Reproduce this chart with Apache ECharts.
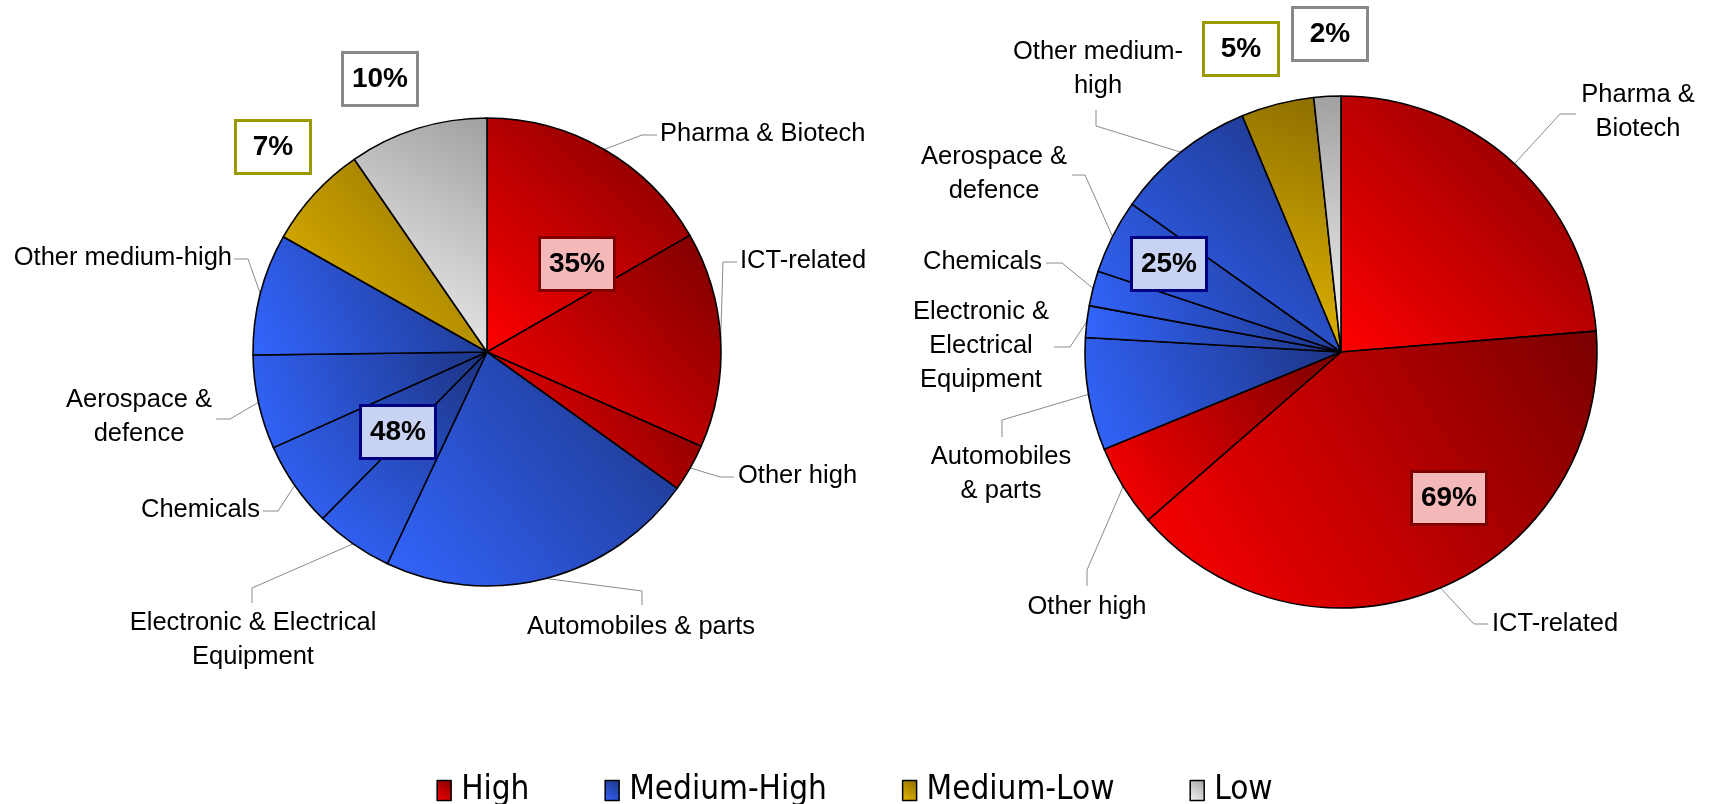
<!DOCTYPE html>
<html>
<head>
<meta charset="utf-8">
<script src="https://cdn.jsdelivr.net/npm/echarts@6/dist/echarts.min.js"></script>
<style>
  html, body { margin: 0; padding: 0; background: #ffffff; }
  #chart { width: 1709px; height: 804px; }
</style>
</head>
<body>
<div id="chart"></div>
<script>
// Sectors (same order in both pies) and the technology group each belongs to
const categories = ['Pharma & Biotech', 'ICT-related', 'Other high', 'Automobiles & parts',
  'Electronic & Electrical Equipment', 'Chemicals', 'Aerospace & defence', 'Other medium-high',
  'Medium-Low', 'Low'];
const categoryGroups = ['High', 'High', 'High', 'Medium-High', 'Medium-High', 'Medium-High',
  'Medium-High', 'Medium-High', 'Medium-Low', 'Low'];
const groups = ['High', 'Medium-High', 'Medium-Low', 'Low'];

// Shares (%) of each sector
const leftShares  = [16.7, 14.9, 3.3, 22.1, 5.4, 5.9, 6.5, 8.4, 7.2, 9.6];
const rightShares = [23.7, 39.9, 5.2, 7.1, 2.0, 2.2, 4.7, 8.9, 4.6, 1.7];

// Label text as written next to each pie (empty = no sector label)
const leftLabelText = ['Pharma & Biotech', 'ICT-related', 'Other high', 'Automobiles & parts',
  'Electronic & Electrical\nEquipment', 'Chemicals', 'Aerospace &\ndefence', 'Other medium-high', '', ''];
const rightLabelText = ['Pharma &\nBiotech', 'ICT-related', 'Other high', 'Automobiles\n& parts',
  'Electronic &\nElectrical\nEquipment', 'Chemicals', 'Aerospace &\ndefence', 'Other medium-\nhigh', '', ''];

// ---- presentation ----
const FONT = "'Liberation Sans', Arial, sans-serif";
const NARROW = "'Liberation Sans Narrow', 'Arial Narrow', 'DejaVu Sans Condensed', sans-serif";

const palette = {
  'High':        { light: '#FF0000', dark: '#7A0000', box: '#F4B8B8', edge: '#800000' },
  'Medium-High': { light: '#3366FF', dark: '#1C3380', box: '#C8D2F2', edge: '#000080' },
  'Medium-Low':  { light: '#E8BA00', dark: '#8A6C00', box: '#FFFFFF', edge: '#999900' },
  'Low':         { light: '#F8F8F8', dark: '#A0A0A0', box: '#FFFFFF', edge: '#888888' }
};
function shade(g) {
  return new echarts.graphic.LinearGradient(0, 1, 1, 0, [
    { offset: 0, color: palette[g].light },
    { offset: 1, color: palette[g].dark }
  ]);
}

const leftPie  = { center: [487, 352],  radius: 234 };
const rightPie = { center: [1341, 352], radius: 256 };

// Where each sector label sits and how its leader line bends
const leftLabelPlace = [
  { at: [660, 134], align: 'left',   bend: [642, 135], end: [657, 135] },
  { at: [740, 261], align: 'left',   bend: [723, 262], end: [737, 262] },
  { at: [738, 476], align: 'left',   bend: [720, 477], end: [734, 477] },
  { at: [641, 627], align: 'center', bend: [642, 591], end: [642, 605] },
  { at: [253, 640], align: 'center', bend: [252, 588], end: [252, 603] },
  { at: [260, 510], align: 'right',  bend: [278, 511], end: [263, 511] },
  { at: [139, 417], align: 'center', bend: [230, 419], end: [216, 419] },
  { at: [232, 258], align: 'right',  bend: [248, 259], end: [234, 259] }
];
const rightLabelPlace = [
  { at: [1638, 112], align: 'center', bend: [1560, 114], end: [1576, 114] },
  { at: [1492, 624], align: 'left',   bend: [1474, 624], end: [1488, 624] },
  { at: [1087, 607], align: 'center', bend: [1087, 570], end: [1087, 586] },
  { at: [1001, 474], align: 'center', bend: [1002, 420], end: [1002, 437] },
  { at: [981, 346],  align: 'center', bend: [1070, 347], end: [1054, 347] },
  { at: [1042, 262], align: 'right',  bend: [1062, 263], end: [1046, 263] },
  { at: [994, 174],  align: 'center', bend: [1085, 175], end: [1072, 175] },
  { at: [1098, 69],  align: 'center', bend: [1096, 126], end: [1096, 110] }
];
// Centres of the group percentage boxes (High, Medium-High, Medium-Low, Low)
const leftBoxPlace  = [[577, 264], [398, 432], [273, 147], [380, 79]];
const rightBoxPlace = [[1449, 498], [1169, 264], [1241, 49], [1330, 34]];

function groupSums(shares) {
  return groups.map(g => +shares.reduce((s, v, i) => categoryGroups[i] === g ? s + v : s, 0).toFixed(1));
}

function edgePoint(shares, pie, idx) {
  const total = shares.reduce((a, b) => a + b, 0);
  let before = 0;
  for (let i = 0; i < idx; i++) before += shares[i];
  const ang = (before + shares[idx] / 2) / total * 2 * Math.PI;
  return [pie.center[0] + pie.radius * Math.sin(ang), pie.center[1] - pie.radius * Math.cos(ang)];
}

function sectorSeries(shares, labels, pie, place) {
  return {
    type: 'pie',
    center: pie.center,
    radius: pie.radius,
    startAngle: 90,
    clockwise: true,
    avoidLabelOverlap: false,
    silent: true,
    animation: false,
    emphasis: { disabled: true },
    itemStyle: { borderColor: '#000000', borderWidth: 1.6 },
    label: {
      show: true,
      position: 'outside',
      formatter: p => labels[p.dataIndex],
      fontFamily: FONT,
      fontSize: 25.5,
      lineHeight: 34,
      color: '#000000'
    },
    labelLine: { show: true, length: 10, length2: 10, lineStyle: { color: '#8a8a8a', width: 1 } },
    labelLayout: p => {
      const L = place[p.dataIndex];
      if (!L) return {};
      const start = edgePoint(shares, pie, p.dataIndex);
      return {
        x: L.at[0], y: L.at[1], align: L.align, verticalAlign: 'middle',
        labelLinePoints: [start, L.bend, L.end]
      };
    },
    data: categories.map((name, i) => ({
      name: name,
      value: shares[i],
      itemStyle: { color: shade(categoryGroups[i]) },
      label: { show: labels[i] !== '' },
      labelLine: { show: labels[i] !== '' }
    }))
  };
}

function groupSeries(shares, pie, boxes) {
  const sums = groupSums(shares);
  return {
    type: 'pie',
    center: pie.center,
    radius: pie.radius,
    startAngle: 90,
    clockwise: true,
    avoidLabelOverlap: false,
    silent: true,
    animation: false,
    z: 3,
    emphasis: { disabled: true },
    itemStyle: { color: 'rgba(0,0,0,0)', borderWidth: 0 },
    label: {
      show: true,
      position: 'inside',
      formatter: p => Math.round(p.value) + '%',
      fontFamily: FONT,
      fontWeight: 'bold',
      fontSize: 28,
      color: '#000000',
      width: 68,
      height: 28,
      lineHeight: 28,
      overflow: 'none',
      align: 'center',
      padding: [11, 2],
      borderWidth: 3
    },
    labelLine: { show: false },
    labelLayout: p => ({
      x: boxes[p.dataIndex][0], y: boxes[p.dataIndex][1], align: 'center', verticalAlign: 'middle'
    }),
    data: groups.map((g, i) => ({
      name: g,
      value: sums[i],
      label: { backgroundColor: palette[g].box, borderColor: palette[g].edge }
    }))
  };
}

const chart = echarts.init(document.getElementById('chart'), null, { renderer: 'canvas' });
chart.setOption({
  backgroundColor: '#ffffff',
  animation: false,
  legend: {
    left: 'center',
    top: 769,
    icon: 'rect',
    itemWidth: 14,
    itemHeight: 20,
    itemGap: 75,
    selectedMode: false,
    textStyle: { fontFamily: NARROW, fontSize: 33, color: '#000000', padding: [0, 0, 0, 5] },
    data: groups.map(g => ({
      name: g,
      itemStyle: { color: shade(g), borderColor: '#000000', borderWidth: 1.5 }
    }))
  },
  series: [
    sectorSeries(leftShares, leftLabelText, leftPie, leftLabelPlace),
    groupSeries(leftShares, leftPie, leftBoxPlace),
    sectorSeries(rightShares, rightLabelText, rightPie, rightLabelPlace),
    groupSeries(rightShares, rightPie, rightBoxPlace)
  ]
});
</script>
</body>
</html>
